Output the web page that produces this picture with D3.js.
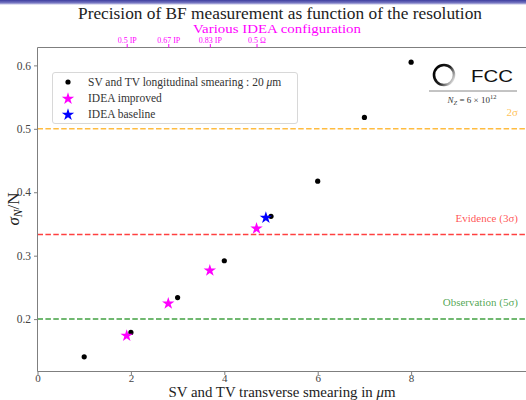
<!DOCTYPE html>
<html>
<head>
<meta charset="utf-8">
<script src="https://cdn.jsdelivr.net/npm/d3@7"></script>
<style>
  html, body { margin: 0; padding: 0; background: #fff; }
  svg { display: block; }
  .serif { font-family: "Liberation Serif", "DejaVu Serif", serif; }
</style>
</head>
<body>
<svg id="chart" width="526" height="400"></svg>
<script>
// Longitudinal smearing fixed at 20 um: transverse smearing (um) vs sigma_N/N
const smearX = [1, 2, 3, 4, 5, 6, 7, 8];
const smearY = [0.1406, 0.179, 0.234, 0.292, 0.362, 0.4175, 0.518, 0.605];

// IDEA configurations (improved variants and the baseline)
const improvedX = [1.91, 2.80, 3.69, 4.69];
const improvedY = [0.175, 0.226, 0.278, 0.344];
const improvedLabels = ["0.5 IP", "0.67 IP", "0.83 IP", "0.5 \u03A9"];
const baselineX = [4.89];
const baselineY = [0.361];

// Significance thresholds
const thresholdValues = [1 / 2, 1 / 3, 1 / 5];
const thresholdLabels = ["2\u03C3", "Evidence (3\u03C3)", "Observation (5\u03C3)"];
const thresholdColors = ["#ffa500", "#ff0000", "#008000"];

const xTicks = [0, 2, 4, 6, 8];
const yTicks = [0.2, 0.3, 0.4, 0.5, 0.6];

const svg = d3.select("#chart");
const W = 526, H = 400;
const mLeft = 37.5, mTop = 47.5, mBottom = 371.5;

const x = d3.scaleLinear().domain([0, 10.46]).range([mLeft, W]);
const y = d3.scaleLinear().domain([0.1174, 0.6282]).range([mBottom, mTop]);

// header band
const defs = svg.append("defs");
const band = defs.append("linearGradient").attr("id", "band")
  .attr("x1", 0).attr("y1", 0).attr("x2", 0).attr("y2", 1);
band.append("stop").attr("offset", 0).attr("stop-color", "#3d3d9e");
band.append("stop").attr("offset", 0.6).attr("stop-color", "#7a7ac4");
band.append("stop").attr("offset", 1).attr("stop-color", "#ffffff");
svg.append("rect").attr("x", 0).attr("y", 0).attr("width", W).attr("height", 5)
  .attr("fill", "url(#band)");

// title + subtitle
svg.append("text").attr("class", "serif")
  .attr("x", 280).attr("y", 18.5).attr("text-anchor", "middle")
  .attr("font-size", 16.5).attr("fill", "#222")
  .attr("textLength", 404).attr("lengthAdjust", "spacingAndGlyphs")
  .text("Precision of BF measurement as function of the resolution");
svg.append("text").attr("class", "serif")
  .attr("x", 277).attr("y", 32.5).attr("text-anchor", "middle")
  .attr("font-size", 12.5).attr("fill", "#ff00ff")
  .attr("textLength", 168).attr("lengthAdjust", "spacingAndGlyphs")
  .text("Various IDEA configuration");

const plot = svg.append("g");
const clip = defs.append("clipPath").attr("id", "plotclip");
clip.append("rect").attr("x", mLeft).attr("y", mTop).attr("width", W - mLeft).attr("height", mBottom - mTop);

// threshold lines
const thr = plot.append("g").attr("clip-path", "url(#plotclip)");
thresholdValues.forEach((v, i) => {
  thr.append("line")
    .attr("x1", mLeft).attr("x2", W)
    .attr("y1", y(v)).attr("y2", y(v))
    .attr("stroke", thresholdColors[i]).attr("stroke-width", 1.5)
    .attr("stroke-opacity", 0.75)
    .attr("stroke-dasharray", "5.5,2.4");
  svg.append("text").attr("class", "serif")
    .attr("x", 518).attr("y", y(v) - 13).attr("text-anchor", "end")
    .attr("font-size", 11).attr("fill", thresholdColors[i]).attr("fill-opacity", 0.7)
    .text(thresholdLabels[i]);
});

// axes
const axisColor = "#7f7f7f";
const xAxis = svg.append("g").attr("transform", `translate(0,${mBottom})`)
  .call(d3.axisBottom(x).tickValues(xTicks).tickSize(3.5).tickFormat(d3.format("d")));
const yAxis = svg.append("g").attr("transform", `translate(${mLeft},0)`)
  .call(d3.axisLeft(y).tickValues(yTicks).tickSize(3.5).tickFormat(d3.format(".1f")));
const topAxis = svg.append("g").attr("transform", `translate(0,${mTop})`)
  .call(d3.axisTop(x).tickValues(improvedX).tickSize(3.5).tickFormat((d, i) => improvedLabels[i]));

[xAxis, yAxis].forEach(g => {
  g.select(".domain").attr("stroke", axisColor).attr("stroke-width", 1);
  g.selectAll(".tick line").attr("stroke", axisColor);
  g.selectAll(".tick text").attr("class", "serif").attr("font-size", 11.5).attr("fill", "#444");
});
xAxis.select(".domain").attr("d", `M${mLeft},0H${W}`);
xAxis.selectAll(".tick text").attr("font-size", 11).attr("y", 2.5).attr("dy", "0.71em");
yAxis.select(".domain").attr("d", `M0,${mBottom}V${mTop}`);
topAxis.select(".domain").attr("stroke", axisColor).attr("d", `M${mLeft},0H${W}`);
topAxis.selectAll(".tick line").attr("stroke", "#ff00ff");
topAxis.selectAll(".tick text").attr("class", "serif").attr("font-size", 8)
  .attr("fill", "#ff00ff").attr("y", -5);

// axis titles
svg.append("text").attr("class", "serif")
  .attr("x", 282).attr("y", 397).attr("text-anchor", "middle")
  .attr("font-size", 14).attr("fill", "#222")
  .attr("textLength", 227).attr("lengthAdjust", "spacingAndGlyphs")
  .html("SV and TV transverse smearing in <tspan font-style='italic'>\u03BC</tspan>m");
const yl = svg.append("text").attr("class", "serif")
  .attr("transform", "translate(19,209) rotate(-90)")
  .attr("text-anchor", "middle").attr("font-size", 17).attr("fill", "#222");
yl.append("tspan").attr("font-style", "italic").text("\u03C3");
yl.append("tspan").attr("font-style", "italic").attr("font-size", 11.5).attr("dy", 3).text("N");
yl.append("tspan").attr("dy", -3).text("/N");

// data marks
const star = d3.symbol().type(d3.symbolStar).size(48);
plot.append("g").selectAll("circle").data(smearX).join("circle")
  .attr("cx", d => x(d)).attr("cy", (d, i) => y(smearY[i])).attr("r", 2.6).attr("fill", "#000");
plot.append("g").selectAll("path").data(improvedX).join("path")
  .attr("d", star).attr("fill", "#ff00ff")
  .attr("transform", (d, i) => `translate(${x(d)},${y(improvedY[i]) + 0.8})`);
plot.append("g").selectAll("path").data(baselineX).join("path")
  .attr("d", star).attr("fill", "#0000ff")
  .attr("transform", (d, i) => `translate(${x(d)},${y(baselineY[i]) + 0.8})`);

// legend
const lg = svg.append("g");
lg.append("rect").attr("x", 52.5).attr("y", 72.5).attr("width", 245).attr("height", 51)
  .attr("rx", 2.5).attr("fill", "#fff").attr("fill-opacity", 0.8)
  .attr("stroke", "#d8d8d8").attr("stroke-width", 1);
const legendRows = [
  { kind: "dot", color: "#000", label: "SV and TV longitudinal smearing : 20 <tspan font-style='italic'>\u03BC</tspan>m" },
  { kind: "star", color: "#ff00ff", label: "IDEA improved" },
  { kind: "star", color: "#0000ff", label: "IDEA baseline" }
];
legendRows.forEach((r, i) => {
  const cy = 82 + i * 16;
  if (r.kind === "dot") {
    lg.append("circle").attr("cx", 68).attr("cy", cy).attr("r", 2.6).attr("fill", r.color);
  } else {
    lg.append("path").attr("d", star).attr("fill", r.color)
      .attr("transform", `translate(68,${cy + 0.8})`);
  }
  lg.append("text").attr("class", "serif").attr("x", 88).attr("y", cy + 4)
    .attr("font-size", 11.5).attr("fill", "#333").html(r.label);
});

// FCC logo
const ring = defs.append("linearGradient").attr("id", "ring")
  .attr("x1", 0).attr("y1", 0.2).attr("x2", 1).attr("y2", 0.8);
ring.append("stop").attr("offset", 0).attr("stop-color", "#000");
ring.append("stop").attr("offset", 0.55).attr("stop-color", "#222");
ring.append("stop").attr("offset", 1).attr("stop-color", "#e8e8e8");
svg.append("circle").attr("cx", 444).attr("cy", 75).attr("r", 10)
  .attr("fill", "none").attr("stroke", "url(#ring)").attr("stroke-width", 2.6);
svg.append("text").attr("x", 471).attr("y", 81.5)
  .attr("font-family", "Liberation Sans, Arial, sans-serif").attr("font-size", 17)
  .attr("fill", "#111").attr("textLength", 42).attr("lengthAdjust", "spacingAndGlyphs")
  .text("FCC");
svg.append("line").attr("x1", 429).attr("x2", 517).attr("y1", 91).attr("y2", 91)
  .attr("stroke", "#888").attr("stroke-width", 1);
const nz = svg.append("text").attr("class", "serif").attr("x", 472).attr("y", 103)
  .attr("text-anchor", "middle").attr("font-size", 9).attr("fill", "#333");
nz.append("tspan").attr("font-style", "italic").text("N");
nz.append("tspan").attr("font-style", "italic").attr("font-size", 6.5).attr("dy", 2).text("Z");
nz.append("tspan").attr("dy", -2).text(" = 6 \u00D7 10");
nz.append("tspan").attr("font-size", 6.5).attr("dy", -4).text("12");
</script>
</body>
</html>
